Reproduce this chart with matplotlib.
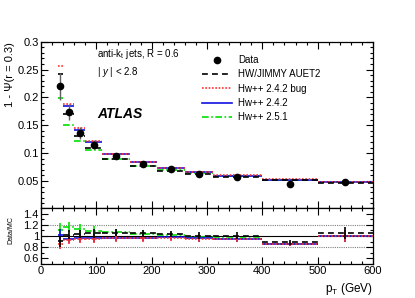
import numpy as np
import matplotlib
matplotlib.use("Agg")
import matplotlib.pyplot as plt
from matplotlib.ticker import MultipleLocator, FuncFormatter, FixedLocator

plt.rcParams['font.family'] = ['Liberation Sans', 'DejaVu Sans']
plt.rcParams['mathtext.fontset'] = 'custom'
plt.rcParams['mathtext.rm'] = 'Liberation Sans'
plt.rcParams['mathtext.it'] = 'Liberation Sans:italic'
plt.rcParams['mathtext.bf'] = 'Liberation Sans:bold'

# ---- data ----
bin_edges = [30, 40, 60, 80, 110, 160, 210, 260, 310, 400, 500, 600]
data_vals = [0.220, 0.174, 0.136, 0.115, 0.0949, 0.0805, 0.0710, 0.0626, 0.0566, 0.0452, 0.0485]
data_errs = [0.024, 0.014, 0.010, 0.008, 0.006, 0.005, 0.004, 0.004, 0.0035, 0.002, 0.005]
hw_jimmy = [0.242, 0.1706, 0.131, 0.1100, 0.0895, 0.0770, 0.0685, 0.0622, 0.0565, 0.0510, 0.0462]
hwpp_242bug = [0.257, 0.1880, 0.1445, 0.1215, 0.0990, 0.0840, 0.0732, 0.0660, 0.0600, 0.0527, 0.0487]
hwpp_242 = [0.218, 0.1845, 0.1420, 0.1195, 0.0978, 0.0832, 0.0727, 0.0653, 0.0597, 0.0524, 0.0484]
hwpp_251 = [0.199, 0.1505, 0.1210, 0.1050, 0.0890, 0.0775, 0.0695, 0.0640, 0.0590, 0.0524, 0.0484]

edges = np.array(bin_edges, dtype=float)
lo, hi = edges[:-1], edges[1:]
centers = 0.5 * (lo + hi)
data = np.array(data_vals)
derr = np.array(data_errs)

series = [
    ("Hw++ 2.5.1", hwpp_251, '#00e000', (0, (4, 1.5, 1, 1.5))),
    ("Hw++ 2.4.2", hwpp_242, '#1010e0', '-'),
    ("Hw++ 2.4.2 bug", hwpp_242bug, '#ff3030', (0, (1, 1))),
    ("HW/JIMMY AUET2", hw_jimmy, 'black', (0, (3.5, 2.5))),
]

fig = plt.figure(figsize=(4.15, 2.98), dpi=100)
L, W = 41 / 415, 332 / 415
ax = fig.add_axes([L, 1 - 208 / 298, W, 166.3 / 298])
axr = fig.add_axes([L, 1 - 264 / 298, W, 56 / 298], sharex=ax)

handles = {}
for name, vals, col, ls in series:
    h = ax.hlines(vals, lo, hi, colors=col, linestyles=ls, linewidth=1.2, zorder=3)
    handles[name] = ax.plot([], [], color=col, ls=ls, lw=1.2)[0]
    ratio = data / np.array(vals)
    rerr = ratio * derr / data
    axr.hlines(ratio, lo, hi, colors=col, linestyles=ls, linewidth=1.2, zorder=3)
    axr.errorbar(centers, ratio, yerr=rerr, fmt='none', ecolor=col, elinewidth=1.2, zorder=3)

ax.errorbar(centers, data, yerr=derr, fmt='none', ecolor='#606060', elinewidth=1.0, zorder=4)
hd = ax.plot(centers, data, 'o', color='black', ms=4.5, zorder=5, ls='none')[0]

# reference lines in ratio
axr.axhline(1.0, color='black', lw=0.8, zorder=1)
axr.axhline(1.2, color='#808080', lw=0.8, ls=(0, (1, 1)), zorder=1)
axr.axhline(0.8, color='#808080', lw=0.8, ls=(0, (1, 1)), zorder=1)

# axes settings
ax.set_xlim(0, 600)
ax.set_ylim(0.0015, 0.3)
axr.set_ylim(0.5, 1.5)

for a in (ax, axr):
    a.tick_params(direction='in', which='both', top=True, right=True, labelsize=8, pad=1.5)
    a.tick_params(which='major', length=5, width=0.8)
    a.tick_params(which='minor', length=2.5, width=0.8)
    for s in a.spines.values():
        s.set_linewidth(0.9)

ax.xaxis.set_major_locator(MultipleLocator(100))
ax.xaxis.set_minor_locator(MultipleLocator(20))
ax.yaxis.set_major_locator(FixedLocator([0.05, 0.1, 0.15, 0.2, 0.25, 0.3]))
ax.yaxis.set_minor_locator(MultipleLocator(0.01))
ax.yaxis.set_major_formatter(FuncFormatter(lambda v, p: f"{v:g}"))
plt.setp(ax.get_xticklabels(), visible=False)

axr.yaxis.set_major_locator(FixedLocator([0.6, 0.8, 1.0, 1.2, 1.4]))
axr.yaxis.set_minor_locator(MultipleLocator(0.1))
axr.yaxis.set_major_formatter(FuncFormatter(lambda v, p: f"{v:g}"))

ax.set_ylabel(r"1 - Ψ(r = 0.3)", fontsize=8, loc='top')
ax.yaxis.set_label_coords(-0.078, 1.0)
axr.set_ylabel("Data/MC", fontsize=5)
axr.yaxis.set_label_coords(-0.08, 0.6)

axr.set_xlabel(r"p$_\mathregular{T}$ (GeV)", fontsize=8.5, loc='right')
axr.xaxis.set_label_coords(1.0, -0.30)

ax.text(0.169, 0.926, r"anti-k$_\mathregular{t}$ jets, R = 0.6", transform=ax.transAxes,
        fontsize=7, va='center', ha='left')
ax.text(0.169, 0.818, r"| $y$ | < 2.8", transform=ax.transAxes,
        fontsize=7, va='center', ha='left')
ax.text(0.169, 0.565, "ATLAS", transform=ax.transAxes, fontsize=10,
        fontweight='bold', fontstyle='italic', va='center', ha='left')

leg_h = [hd, handles["HW/JIMMY AUET2"], handles["Hw++ 2.4.2 bug"],
         handles["Hw++ 2.4.2"], handles["Hw++ 2.5.1"]]
leg_l = ["Data", "HW/JIMMY AUET2", "Hw++ 2.4.2 bug", "Hw++ 2.4.2", "Hw++ 2.5.1"]
ax.legend(leg_h, leg_l, loc='upper left', bbox_to_anchor=(202 / 415, 1 - 55.0 / 298),
          bbox_transform=fig.transFigure, frameon=False, fontsize=7,
          handlelength=3.1, handletextpad=0.6, labelspacing=0.45,
          borderpad=0, borderaxespad=0)

fig.savefig("out.png", dpi=100)
